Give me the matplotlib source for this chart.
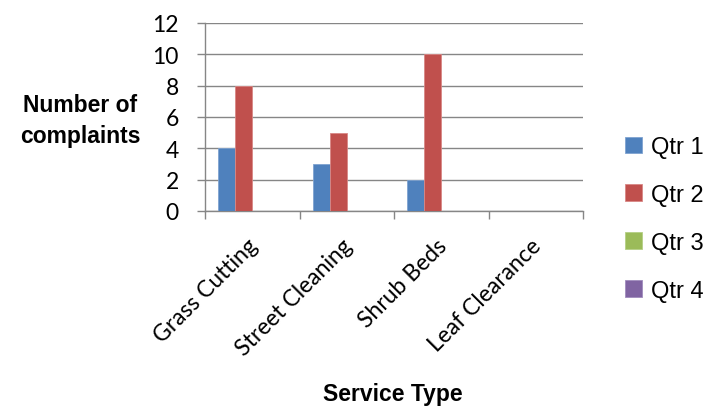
import matplotlib
matplotlib.use("Agg")
import matplotlib.pyplot as plt
import matplotlib.transforms as mtransforms
import numpy as np

categories = ["Grass Cutting", "Street Cleaning", "Shrub Beds", "Leaf Clearance"]
series_names = ["Qtr 1", "Qtr 2", "Qtr 3", "Qtr 4"]
qtr1 = [4, 3, 2, 0]
qtr2 = [8, 5, 10, 0]
qtr3 = [0, 0, 0, 0]
qtr4 = [0, 0, 0, 0]
y_ticks = [0, 2, 4, 6, 8, 10, 12]

colores = ["#4F81BD", "#C0504D", "#9BBB59", "#8064A2"]
bordes = ["#7FA3D0", "#D98785", "#B5CF85", "#A08CBD"]

negrita = "Liberation Sans"
texto = "Lato"

fig = plt.figure(figsize=(7.07, 4.10), dpi=100)
ax = fig.add_axes([205 / 707, 1 - 212 / 410, (583 - 205) / 707, (212 - 24) / 410])

x = np.arange(len(categories))
ancho = 0.18
for i, valores in enumerate([qtr1, qtr2, qtr3, qtr4]):
    pos = x + (i - 1.5) * ancho
    ax.bar(pos, valores, width=ancho, color=colores[i], edgecolor=bordes[i],
           linewidth=0.6, label=series_names[i], zorder=3)

ax.set_xlim(-0.5, len(categories) - 0.5)
ax.set_ylim(0, 12)
ax.set_yticks(y_ticks)
ax.set_yticklabels([str(v) for v in y_ticks], fontfamily=texto, fontsize=16.5)
ax.yaxis.grid(True, color="#868686", linewidth=1.0, zorder=0)
ax.tick_params(axis="y", length=5.8, width=1.0, color="#868686", pad=13)

ax.set_xticks(np.arange(len(categories) + 1) - 0.5)
ax.set_xticklabels([])
ax.tick_params(axis="x", which="major", length=5.8, width=1.0, color="#868686")
ax.set_xticks(x, minor=True)
ax.set_xticklabels(categories, minor=True, rotation=45, ha="right",
                   rotation_mode="anchor", fontfamily=texto, fontsize=16.5)
ax.tick_params(axis="x", which="minor", length=0, pad=17)
desplazar = mtransforms.ScaledTranslation(-5 / 100, 0, fig.dpi_scale_trans)
for etiqueta in ax.get_xticklabels(minor=True):
    etiqueta.set_transform(etiqueta.get_transform() + desplazar)

for lado in ["top", "right"]:
    ax.spines[lado].set_visible(False)
for lado in ["left", "bottom"]:
    ax.spines[lado].set_color("#868686")
    ax.spines[lado].set_linewidth(1.0)

fig.text(80 / 707, 1 - 121 / 410, "Number of\ncomplaints", ha="center", va="center",
         fontfamily=negrita, fontweight="bold", fontsize=16.5, linespacing=1.4)
fig.text(393 / 707, 1 - 395 / 410, "Service Type", ha="center", va="center",
         fontfamily=negrita, fontweight="bold", fontsize=16.5)

leg = ax.legend(loc="center left", bbox_to_anchor=(604 / 707, 1 - 220 / 410),
                bbox_transform=fig.transFigure, frameon=False,
                prop={"family": negrita, "size": 17}, handlelength=0.7,
                handleheight=0.7, handletextpad=0.4, labelspacing=1.1)

plt.savefig("out.png", dpi=100)
